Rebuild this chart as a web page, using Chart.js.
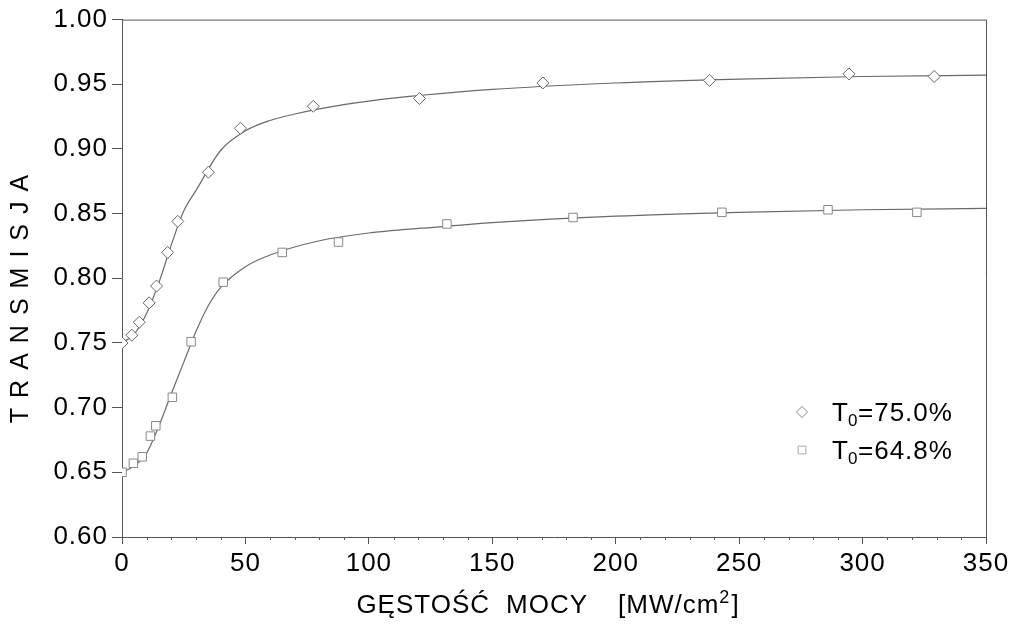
<!DOCTYPE html>
<html>
<head>
<meta charset="utf-8">
<script src="https://cdn.jsdelivr.net/npm/chart.js@4"></script>
<style>
  body { margin: 0; background: #fff; }
  #wrap { width: 1026px; height: 632px; }
</style>
</head>
<body>
<div id="wrap"><canvas id="c" width="1026" height="632"></canvas></div>
<script>
// measured points, T0 = 75.0%
const diamondX = [0, 4, 7, 11, 14, 18.5, 22.6, 35, 48, 77.5, 120.5, 170.5, 238, 294.5, 329]
const diamondY = [0.750, 0.756, 0.766, 0.781, 0.794, 0.820, 0.844, 0.882, 0.916, 0.933, 0.939, 0.951, 0.953, 0.958, 0.956]
// measured points, T0 = 64.8%
const squareX = [0, 4.6, 8.2, 11.5, 13.7, 20.4, 28, 41, 64.9, 87.7, 131.6, 182.7, 243, 286, 322]
const squareY = [0.650, 0.657, 0.662, 0.678, 0.686, 0.708, 0.751, 0.797, 0.820, 0.828, 0.842, 0.847, 0.851, 0.853, 0.851]
// fitted curves
const fitX75 = [0, 5, 10, 15, 20, 25, 30, 40, 50, 60, 70, 80, 100, 150, 200, 250, 300, 350]
const fitY75 = [0.750, 0.757, 0.773, 0.797, 0.826, 0.852, 0.868, 0.899, 0.914, 0.922, 0.927, 0.931, 0.937, 0.946, 0.951, 0.954, 0.956, 0.957]
const fitX65 = [0, 5, 10, 15, 20, 25, 30, 35, 40, 50, 60, 80, 100, 130, 150, 200, 250, 300, 350]
const fitY65 = [0.650, 0.655, 0.665, 0.686, 0.711, 0.735, 0.759, 0.779, 0.793, 0.809, 0.818, 0.829, 0.835, 0.840, 0.843, 0.848, 0.851, 0.853, 0.854]

const legendLabels = ['75.0%', '64.8%']
const xTitleParts = ['GĘSTOŚĆ', 'MOCY', '[MW/cm', '2', ']']
const yTitle = 'TRANSMISJA'

const FONT = "'Liberation Sans', Arial, sans-serif"
const FS = 26
const ink = '#000'
const axisCol = '#555'

const pts = (xs, ys) => xs.map((x, i) => ({ x: x, y: ys[i] }))

// the scanned lettering is a little wider than plain Arial
const spacing = {
  id: 'spacing',
  beforeDraw(chart) { chart.ctx.letterSpacing = '1px' }
}

const frame = {
  id: 'frame',
  afterDraw(chart) {
    const { ctx, chartArea: a, scales } = chart
    ctx.save()
    ctx.strokeStyle = axisCol
    ctx.lineWidth = 1
    ctx.beginPath()
    ctx.moveTo(a.left, a.top + 0.5)
    ctx.lineTo(a.right + 0.5, a.top + 0.5)
    ctx.lineTo(a.right + 0.5, a.bottom)
    ctx.stroke()
    // minor ticks on x
    ctx.beginPath()
    for (let v = 10; v < 350; v += 10) {
      if (v % 50 === 0) continue
      const px = Math.round(scales.x.getPixelForValue(v)) + 0.5
      ctx.moveTo(px, a.bottom)
      ctx.lineTo(px, a.bottom + 3)
    }
    ctx.stroke()

    ctx.fillStyle = ink
    ctx.textBaseline = 'alphabetic'
    ctx.textAlign = 'left'
    ctx.letterSpacing = '1px'

    // x title, with a raised 2
    ctx.font = FS + 'px ' + FONT
    const gap1 = 16, gap2 = 30
    const w0 = ctx.measureText(xTitleParts[0]).width
    const w1 = ctx.measureText(xTitleParts[1]).width
    const w2 = ctx.measureText(xTitleParts[2]).width
    const w4 = ctx.measureText(xTitleParts[4]).width
    ctx.font = Math.round(FS * 0.7) + 'px ' + FONT
    const w3 = ctx.measureText(xTitleParts[3]).width
    const total = w0 + gap1 + w1 + gap2 + w2 + w3 + 1 + w4
    let tx = (a.left + a.right) / 2 - total / 2 - 6
    const ty = 613
    ctx.font = FS + 'px ' + FONT
    ctx.fillText(xTitleParts[0], tx, ty); tx += w0 + gap1
    ctx.fillText(xTitleParts[1], tx, ty); tx += w1 + gap2
    ctx.fillText(xTitleParts[2], tx, ty); tx += w2
    ctx.font = Math.round(FS * 0.7) + 'px ' + FONT
    ctx.fillText(xTitleParts[3], tx, ty - 10); tx += w3 + 1
    ctx.font = FS + 'px ' + FONT
    ctx.fillText(xTitleParts[4], tx, ty)

    // legend
    const rows = [
      { y: 412, style: 'rectRot', r: 5.5, col: '#888' },
      { y: 450, style: 'rect', r: 5.5, col: '#aaa' }
    ]
    rows.forEach((row, i) => {
      ctx.strokeStyle = row.col
      ctx.fillStyle = '#fff'
      ctx.lineWidth = 1
      Chart.helpers.drawPoint(ctx, { pointStyle: row.style, radius: row.r, borderWidth: 1 }, 802, row.y)
      ctx.fillStyle = ink
      ctx.font = FS + 'px ' + FONT
      ctx.fillText('T', 832, row.y + 9)
      ctx.font = '17px ' + FONT
      ctx.fillText('0', 848, row.y + 14)
      ctx.font = FS + 'px ' + FONT
      ctx.fillText('=' + legendLabels[i], 858, row.y + 9)
    })

    // y title with wide letter spacing
    ctx.font = (FS - 1) + 'px ' + FONT
    ctx.letterSpacing = '10px'
    ctx.translate(21, 299)
    ctx.rotate(-Math.PI / 2)
    ctx.textAlign = 'center'
    ctx.textBaseline = 'middle'
    ctx.fillText(yTitle, 5, 0)
    ctx.restore()
  }
}

const ctx = document.getElementById('c').getContext('2d')
const chart = new Chart(ctx, {
  type: 'scatter',
  data: {
    datasets: [
      {
        label: 'T0=75.0%',
        data: pts(diamondX, diamondY),
        pointStyle: 'rectRot',
        pointRadius: 6,
        pointBackgroundColor: '#fff',
        pointBorderColor: '#666',
        pointBorderWidth: 1,
        showLine: false,
        order: 0
      },
      {
        label: 'T0=64.8%',
        data: pts(squareX, squareY),
        pointStyle: 'rect',
        pointRadius: 6,
        pointBackgroundColor: '#fff',
        pointBorderColor: '#888',
        pointBorderWidth: 1,
        showLine: false,
        order: 0
      },
      {
        label: 'fit75',
        data: pts(fitX75, fitY75),
        showLine: true,
        pointRadius: 0,
        borderColor: '#6a6a6a',
        borderWidth: 1.2,
        cubicInterpolationMode: 'monotone',
        order: 1
      },
      {
        label: 'fit65',
        data: pts(fitX65, fitY65),
        showLine: true,
        pointRadius: 0,
        borderColor: '#6a6a6a',
        borderWidth: 1.2,
        cubicInterpolationMode: 'monotone',
        order: 1
      }
    ]
  },
  options: {
    responsive: false,
    animation: false,
    layout: { padding: { top: 18, right: 40, left: 0, bottom: 0 } },
    plugins: {
      legend: { display: false },
      tooltip: { enabled: false }
    },
    scales: {
      x: {
        type: 'linear',
        min: 0,
        max: 350,
        afterFit(scale) { scale.height = 95 },
        border: { display: true, color: axisCol, width: 1 },
        grid: { drawOnChartArea: false, drawTicks: true, tickLength: 7, color: axisCol },
        ticks: { stepSize: 50, color: ink, padding: 4, font: { family: FONT, size: FS } }
      },
      y: {
        min: 0.6,
        max: 1.0,
        afterFit(scale) { scale.width = 122 },
        border: { display: true, color: axisCol, width: 1 },
        grid: { drawOnChartArea: false, drawTicks: true, tickLength: 10, color: axisCol },
        ticks: {
          stepSize: 0.05,
          color: ink,
          padding: 4,
          font: { family: FONT, size: FS },
          callback: v => v.toFixed(2)
        }
      }
    }
  },
  plugins: [spacing, frame]
})
</script>
</body>
</html>
